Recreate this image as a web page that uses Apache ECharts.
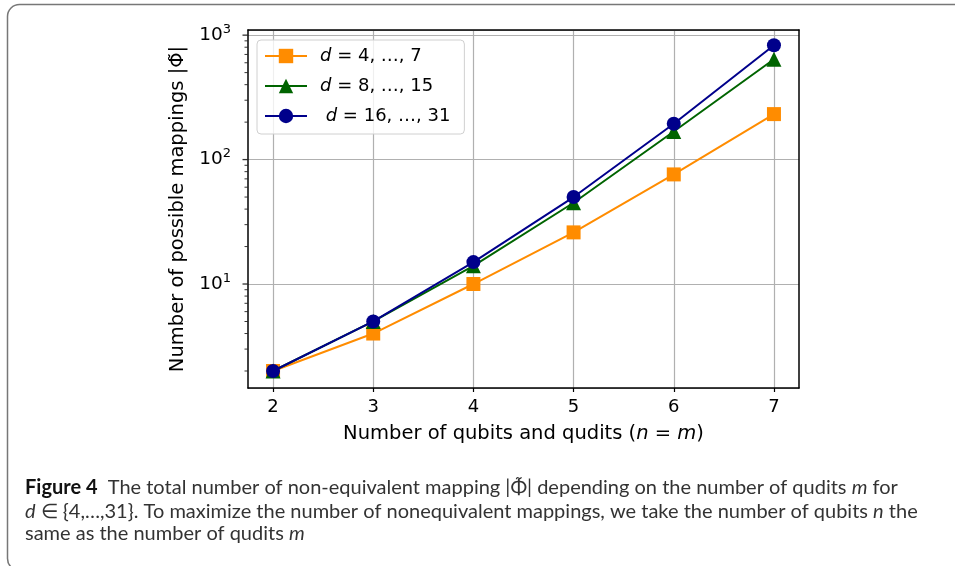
<!DOCTYPE html>
<html>
<head>
<meta charset="utf-8">
<script src="https://cdn.jsdelivr.net/npm/echarts@6/dist/echarts.min.js"></script>
<style>
  html, body { margin: 0; padding: 0; background: #fff; }
  #chart { width: 955px; height: 566px; }
</style>
</head>
<body>
<div id="chart"></div>
<script>
// number of qubits / qudits (n = m)
const qudits = [2, 3, 4, 5, 6, 7];
// |Phi~| for each d range
const d4to7 = [2, 4, 10, 26, 76, 232];
const d8to15 = [2, 5, 14, 45, 168, 640];
const d16to31 = [2, 5, 15, 50, 194, 830];
// y axis ticks (log)
const majorTicks = [10, 100, 1000];
const minorTicks = [2, 3, 4, 5, 6, 7, 8, 9, 20, 30, 40, 50, 60, 70, 80, 90, 200, 300, 400, 500, 600, 700, 800, 900];

const X_MIN = 1.75, X_MAX = 7.25;
const Y_MIN = 1.46, Y_MAX = 1100;
const mplFont = "DejaVu Sans";
const capFont = "Lato, 'Open Sans', sans-serif";

const names = ["d4", "d8", "d16"];
const legendText = {
  d4: "{i|d} = 4, …, 7",
  d8: "{i|d} = 8, …, 15",
  d16: " {i|d} = 16, …, 31"
};

function pairs(vals) {
  return qudits.map((q, i) => [q, vals[i]]);
}

// small scatter marks used as y tick marks on the left side of the axis
function tickSeries(name, vals, len, w) {
  return {
    name: name,
    type: "scatter",
    data: vals.map(v => [X_MIN, v]),
    symbol: "rect",
    symbolSize: [len, w],
    symbolOffset: [-len / 2 - 0.5, 0],
    itemStyle: { color: "#000" },
    clip: false,
    silent: true,
    z: 6
  };
}

const myChart = echarts.init(document.getElementById("chart"));

const capRich = {
  b: { fontFamily: capFont, fontSize: 20, fontWeight: "bold", fill: "#111" },
  i: { fontFamily: capFont, fontSize: 20, fontStyle: "italic", fill: "#333" }
};

const option = {
  animation: false,
  backgroundColor: "#fff",
  textStyle: { fontFamily: mplFont },
  grid: { left: 248, top: 30, right: 156, bottom: 178 },
  legend: {
    data: names,
    left: 257,
    top: 40,
    orient: "vertical",
    itemWidth: 42,
    itemHeight: 18,
    itemGap: 12,
    padding: [7, 14, 9, 7],
    backgroundColor: "rgba(255,255,255,0.8)",
    borderColor: "#d0d0d0",
    borderWidth: 1,
    borderRadius: 4,
    formatter: name => legendText[name],
    textStyle: {
      fontFamily: mplFont,
      fontSize: 18,
      color: "#000",
      padding: [0, 0, 0, 8],
      rich: {
        i: { fontFamily: mplFont, fontStyle: "italic", fontSize: 18, color: "#000" }
      }
    }
  },
  xAxis: [
    {
      type: "value",
      min: X_MIN,
      max: X_MAX,
      name: "{t|Number of qubits and qudits (}{i|n}{t| = }{i|m}{t|)}",
      nameLocation: "middle",
      nameGap: 36,
      nameTextStyle: {
        rich: {
          t: { fontFamily: mplFont, fontSize: 19.5, color: "#000" },
          i: { fontFamily: mplFont, fontSize: 19.5, fontStyle: "italic", color: "#000" }
        }
      },
      axisLine: { show: true, onZero: false, lineStyle: { color: "#000", width: 1.5 } },
      axisTick: { show: true, customValues: qudits, length: 4, lineStyle: { color: "#000", width: 1.2 } },
      axisLabel: {
        customValues: qudits,
        color: "#000",
        fontSize: 18,
        fontFamily: mplFont,
        margin: 10
      },
      splitLine: { show: true, lineStyle: { color: "#b0b0b0", width: 1.2 } }
    },
    {
      type: "value",
      position: "top",
      min: X_MIN,
      max: X_MAX,
      axisLine: { show: true, onZero: false, lineStyle: { color: "#000", width: 1.5 } },
      axisTick: { show: false },
      axisLabel: { show: false },
      splitLine: { show: false }
    }
  ],
  yAxis: [
    {
      type: "log",
      logBase: 10,
      min: Y_MIN,
      max: Y_MAX,
      name: "Number of possible mappings |Φ̃|",
      nameLocation: "middle",
      nameGap: 58,
      nameTextStyle: { fontFamily: mplFont, fontSize: 19.5, color: "#000" },
      axisLine: { show: true, onZero: false, lineStyle: { color: "#000", width: 1.5 } },
      axisTick: { show: false },
      axisLabel: {
        color: "#000",
        margin: 17,
        formatter: function (v) {
          const e = Math.log10(v);
          if (Math.abs(e - Math.round(e)) > 1e-6) return "";
          return "{b|10}{s|" + Math.round(e) + "}";
        },
        rich: {
          b: { fontFamily: mplFont, fontSize: 18.5, color: "#000" },
          s: { fontFamily: mplFont, fontSize: 13, color: "#000", padding: [0, 0, 11, 0] }
        }
      },
      splitLine: { show: true, lineStyle: { color: "#b0b0b0", width: 1.2 } }
    },
    {
      type: "log",
      logBase: 10,
      min: Y_MIN,
      max: Y_MAX,
      position: "right",
      axisLine: { show: true, onZero: false, lineStyle: { color: "#000", width: 1.5 } },
      axisTick: { show: false },
      axisLabel: { show: false },
      splitLine: { show: false }
    }
  ],
  series: [
    {
      name: "d4",
      type: "line",
      data: pairs(d4to7),
      symbol: "rect",
      symbolSize: 14,
      color: "#ff8c00",
      lineStyle: { width: 2, color: "#ff8c00" },
      itemStyle: { color: "#ff8c00" },
      z: 3
    },
    {
      name: "d8",
      type: "line",
      data: pairs(d8to15),
      symbol: "triangle",
      symbolSize: 15,
      color: "#006400",
      lineStyle: { width: 2, color: "#006400" },
      itemStyle: { color: "#006400" },
      z: 4
    },
    {
      name: "d16",
      type: "line",
      data: pairs(d16to31),
      symbol: "circle",
      symbolSize: 14,
      color: "#00008b",
      lineStyle: { width: 2, color: "#00008b" },
      itemStyle: { color: "#00008b" },
      z: 5
    },
    tickSeries("majorTicks", majorTicks, 5, 1.3),
    tickSeries("minorTicks", minorTicks, 3, 1)
  ],
  graphic: [
    {
      type: "rect",
      shape: { x: 7.5, y: 4.5, width: 1200, height: 566, r: 12 },
      style: { fill: "none", stroke: "#777", lineWidth: 1.5 },
      silent: true
    },
    {
      type: "text",
      left: 25,
      top: 478,
      style: {
        text: "{b|Figure 4}  The total number of non-equivalent mapping |Φ̃| depending on the number of qudits {i|m} for",
        font: "20px " + capFont,
        fill: "#333",
        rich: capRich
      }
    },
    {
      type: "text",
      left: 25,
      top: 502,
      style: {
        text: "{i|d} ∈ {4,…,31}. To maximize the number of nonequivalent mappings, we take the number of qubits {i|n} the",
        font: "20px " + capFont,
        fill: "#333",
        rich: capRich
      }
    },
    {
      type: "text",
      left: 25,
      top: 524,
      style: {
        text: "same as the number of qudits {i|m}",
        font: "20px " + capFont,
        fill: "#333",
        rich: capRich
      }
    }
  ]
};

myChart.setOption(option);
window.addEventListener("resize", () => myChart.resize());
</script>
</body>
</html>
